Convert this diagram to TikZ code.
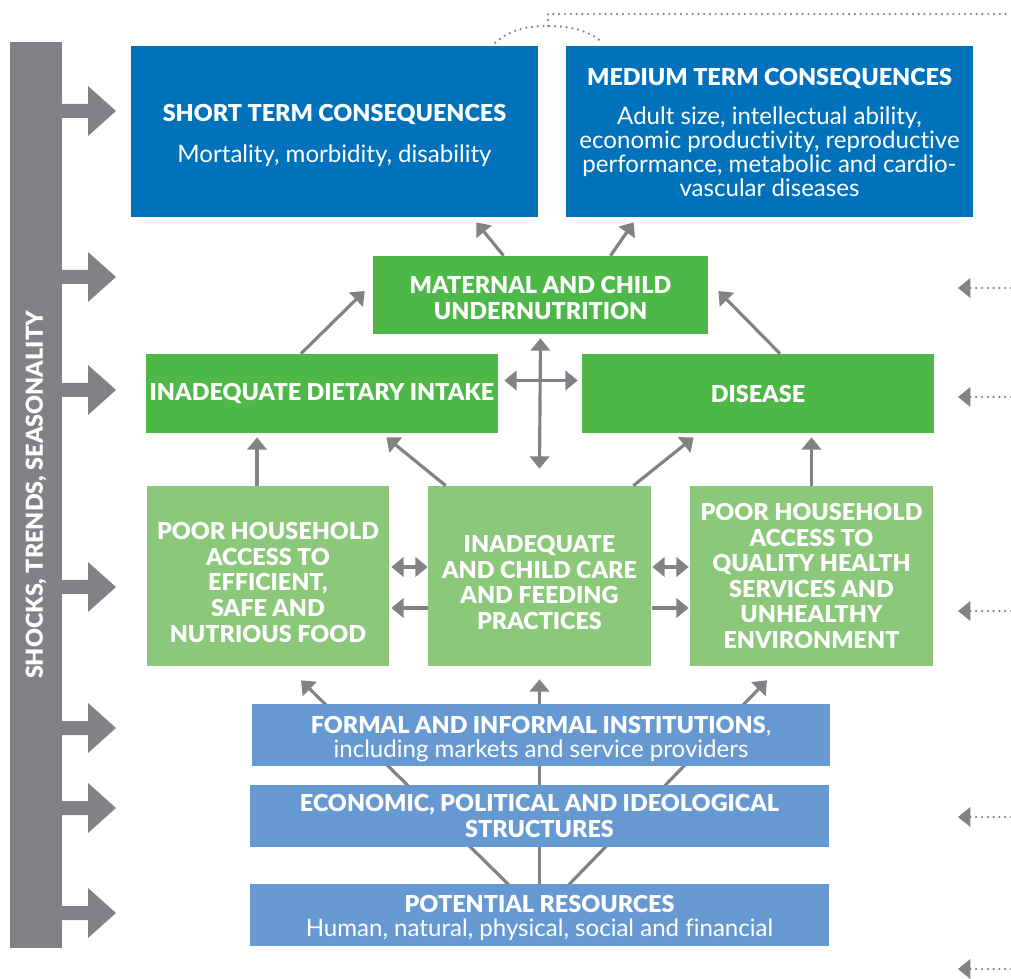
\documentclass[tikz,border=0pt]{standalone}
\usepackage{fontspec}
\setmainfont{Lato}[BoldFont={Lato Black}, Ligatures=NoCommon]
\usetikzlibrary{arrows.meta,calc,backgrounds}
\definecolor{darkblue}{RGB}{0,114,188}
\definecolor{midgreen}{RGB}{77,184,72}
\definecolor{lightgreen}{RGB}{139,200,122}
\definecolor{lightblue}{RGB}{102,153,209}
\definecolor{arrowgray}{RGB}{128,130,133}
\newcommand{\headline}[1]{{\bfseries\fontsize{13.3}{14.6}\selectfont #1}}
\tikzset{
  box/.style={text=white, inner sep=0pt, align=center, font=\fontsize{13.7}{13.6}\selectfont},
  capsbox/.style={box, font=\bfseries\fontsize{13.3}{14.6}\selectfont},
  arr/.style={draw=arrowgray, line width=1.8pt, -{Triangle[length=7pt,width=11pt]}},
  dblarr/.style={arr, {Triangle[length=7pt,width=11pt]}-{Triangle[length=7pt,width=11pt]}},
  dotline/.style={draw=arrowgray, line width=1.4pt, line cap=round, dash pattern=on 0pt off 3.3pt},
  dotarr/.style={dotline, -{Triangle[length=7pt,width=11pt]}}
}
\begin{document}
\begin{tikzpicture}[x=0.02cm,y=-0.02cm]
\useasboundingbox (0,0) rectangle (1011,979);

\node[capsbox, fill=arrowgray, rotate=90, minimum width=18.12cm, minimum height=1.04cm, font=\bfseries\fontsize{13.3}{16}\selectfont] (shocks) at (36,495) {SHOCKS, TRENDS, SEASONALITY};
\foreach \y in {111,277,390,587,728,808,913}
  \fill[arrowgray] (62,\y-7) -- (88,\y-7) -- (88,\y-25) -- (116,\y) -- (88,\y+25) -- (88,\y+7) -- (62,\y+7) -- cycle;

\node[box, fill=darkblue, minimum width=8.14cm, minimum height=3.42cm] (short) at (334.5,131.5) {\rule{0pt}{14pt}\headline{SHORT TERM CONSEQUENCES}\\[9.5pt] Mortality, morbidity, disability};
\node[box, fill=darkblue, minimum width=8.14cm, minimum height=3.42cm] (medium) at (769.5,131.5) {\rule{0pt}{11pt}\headline{MEDIUM TERM CONSEQUENCES}\\[8.5pt] Adult size, intellectual ability,\\ economic productivity, reproductive\\ performance, metabolic and cardio-\\ vascular diseases};

\node[capsbox, fill=midgreen, minimum width=6.7cm, minimum height=1.56cm] (maternal) at (540.5,295) {\rule{0pt}{13pt}MATERNAL AND CHILD\\ UNDERNUTRITION};
\node[capsbox, fill=midgreen, minimum width=7.04cm, minimum height=1.58cm] (dietary) at (322,393.5) {INADEQUATE DIETARY INTAKE};
\node[capsbox, fill=midgreen, minimum width=7.04cm, minimum height=1.58cm] (disease) at (758,393.5) {DISEASE};

\node[capsbox, fill=lightgreen, minimum width=4.84cm, minimum height=3.6cm] (food) at (268,576) {\rule{0pt}{17pt}POOR HOUSEHOLD\\ ACCESS TO\\ EFFICIENT,\\ SAFE AND\\ NUTRIOUS FOOD};
\node[capsbox, fill=lightgreen, minimum width=4.46cm, minimum height=3.6cm] (care) at (539.5,576) {\rule{0pt}{17pt}INADEQUATE\\ AND CHILD CARE\\ AND FEEDING\\ PRACTICES};
\node[capsbox, fill=lightgreen, minimum width=4.86cm, minimum height=3.6cm] (health) at (811.5,576) {POOR HOUSEHOLD\\ ACCESS TO\\ QUALITY HEALTH\\ SERVICES AND\\ UNHEALTHY\\ ENVIRONMENT};

\node[box, fill=lightblue, minimum width=11.56cm, minimum height=1.24cm] (formal) at (541,735) {\rule{0pt}{14pt}\headline{FORMAL AND INFORMAL INSTITUTIONS},\\ including markets and service providers};
\node[capsbox, fill=lightblue, minimum width=11.58cm, minimum height=1.24cm] (econ) at (539.5,816) {ECONOMIC, POLITICAL AND IDEOLOGICAL\\ STRUCTURES};
\node[box, fill=lightblue, minimum width=11.58cm, minimum height=1.24cm] (resources) at (539.5,915) {\rule{0pt}{13pt}\headline{POTENTIAL RESOURCES}\\ Human, natural, physical, social and financial};

\begin{scope}[on background layer]
\draw[arr] (resources.center) -- ($(food.south)+(33,14)$);
\draw[arr] (resources.center) -- ($(care.south)+(0,13)$);
\draw[arr] (resources.center) -- ($(health.south)+(-44.5,14)$);
\end{scope}

\draw[arr] ($(maternal.north)+(-37,0)$) -- ($(short.south east)+(-62,5)$);
\draw[arr] ($(maternal.north)+(70,0)$) -- ($(medium.south west)+(68,5)$);
\draw[arr] ($(dietary.north)+(-21,0)$) -- ($(maternal.west)+(-8,-4)$);
\draw[arr] ($(disease.north)+(22,0)$) -- ($(maternal.east)+(10,-4)$);
\draw[dblarr] ($(maternal.south)+(0,4)$) -- ($(care.north)+(0,-17)$);
\draw[dblarr] ($(dietary.east)+(6,-13)$) -- ($(disease.west)+(-4,-13)$);

\draw[arr] ($(food.north)+(-11,0)$) -- ($(dietary.south)+(-65,4)$);
\draw[arr] ($(care.north west)+(18,0)$) -- ($(dietary.south east)+(-112,4)$);
\draw[arr] ($(care.north east)+(-18,0)$) -- ($(disease.south west)+(112,4)$);
\draw[arr] (health.north) -- ($(disease.south)+(53.5,4)$);

\draw[dblarr] ($(food.east)+(2,-9)$) -- ($(care.west)+(0,-9)$);
\draw[arr] ($(care.west)+(0,32)$) -- ($(food.east)+(2,32)$);
\draw[dblarr] ($(care.east)+(1,-9)$) -- ($(health.west)+(-1,-9)$);
\draw[arr] ($(care.east)+(1,32)$) -- ($(health.west)+(-1,32)$);

\foreach \y in {288,397,611,817,969}
  \draw[dotarr] (1011,\y) -- (958,\y);

\coordinate (lfoot) at ($(short.north east)+(-43,-3)$);
\coordinate (rfoot) at ($(medium.north west)+(37,-3)$);
\coordinate (apex) at (548,26);
\coordinate (corner) at (548,14);
\coordinate (edge) at (1011,14);
\draw[dotline] (lfoot) .. controls (512,28) and (530,26) .. (apex) .. controls (570,26) and (588,30) .. (rfoot);
\draw[dotline] (apex) -- (corner) -- (edge);
\end{tikzpicture}
\end{document}
